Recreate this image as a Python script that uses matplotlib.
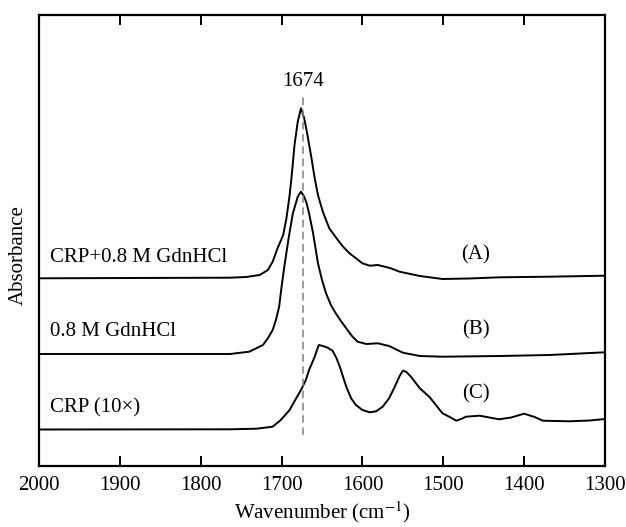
import matplotlib.pyplot as plt
import numpy as np

plt.rcParams['font.family'] = ['Liberation Serif', 'DejaVu Serif']
plt.rcParams['mathtext.fontset'] = 'stix'

# spectra (wavenumber, offset absorbance in arbitrary units)
wn_a = [2000, 1764, 1744, 1727, 1717, 1711, 1705, 1698, 1694, 1690, 1687, 1684, 1680, 1676,
        1672, 1668, 1663, 1659, 1655, 1649, 1641, 1632, 1624, 1616, 1608, 1600, 1591, 1581,
        1566, 1554, 1529, 1501, 1468, 1430, 1369, 1300]
abs_a = [1.877, 1.883, 1.89, 1.91, 1.96, 2.043, 2.177, 2.31, 2.477, 2.71, 2.943, 3.21, 3.443,
         3.577, 3.477, 3.31, 3.077, 2.877, 2.71, 2.543, 2.377, 2.277, 2.193, 2.127, 2.077,
         2.027, 2.003, 2.01, 1.98, 1.943, 1.90, 1.87, 1.875, 1.887, 1.893, 1.903]

wn_b = [2000, 1764, 1740, 1723, 1717, 1711, 1707, 1703, 1700, 1696, 1691, 1686, 1680, 1676,
        1672, 1669, 1666, 1661, 1655, 1650, 1645, 1639, 1633, 1626, 1620, 1613, 1606, 1595,
        1581, 1567, 1550, 1529, 1501, 1430, 1369, 1300]
abs_b = [1.12, 1.12, 1.143, 1.21, 1.277, 1.36, 1.46, 1.593, 1.793, 2.027, 2.293, 2.527, 2.693,
         2.743, 2.693, 2.627, 2.527, 2.327, 2.027, 1.86, 1.727, 1.61, 1.527, 1.443, 1.377,
         1.30, 1.243, 1.22, 1.227, 1.20, 1.133, 1.10, 1.093, 1.10, 1.11, 1.137]

wn_c = [2000, 1764, 1731, 1711, 1701, 1690, 1682, 1676, 1670, 1666, 1659, 1654, 1649, 1643,
        1637, 1632, 1628, 1624, 1620, 1614, 1608, 1600, 1591, 1583, 1575, 1567, 1560, 1554,
        1550, 1546, 1540, 1529, 1517, 1501, 1492, 1484, 1478, 1472, 1455, 1443, 1431, 1416,
        1400, 1387, 1377, 1344, 1319, 1300]
abs_c = [0.365, 0.367, 0.373, 0.393, 0.46, 0.56, 0.677, 0.76, 0.86, 0.96, 1.093, 1.21, 1.20,
         1.183, 1.153, 1.077, 0.993, 0.893, 0.793, 0.677, 0.61, 0.56, 0.537, 0.547, 0.593,
         0.677, 0.793, 0.90, 0.953, 0.943, 0.893, 0.777, 0.69, 0.527, 0.49, 0.453, 0.47,
         0.493, 0.503, 0.485, 0.467, 0.485, 0.523, 0.49, 0.453, 0.447, 0.455, 0.47]

labels_left = ['CRP+0.8 M GdnHCl', '0.8 M GdnHCl', 'CRP (10×)']
labels_left_y = [2.08, 1.34, 0.58]
labels_right = ['(A)', '(B)', '(C)']
labels_right_y = [2.11, 1.36, 0.72]

peak_wn = 1674
peak_span = [0.31, 3.69]

fig = plt.figure(figsize=(6.26, 5.27), dpi=100)
ax = fig.add_axes([39 / 626, 61 / 527, 566 / 626, 451 / 527])

for wn, ab in [(wn_a, abs_a), (wn_b, abs_b), (wn_c, abs_c)]:
    ax.plot(wn, ab, color='black', lw=1.4, solid_joinstyle='round')

ax.plot([peak_wn, peak_wn], peak_span, color='#808080', lw=1.1, ls=(0, (5, 3)))
ax.text(peak_wn, 3.84, str(peak_wn), ha='center', va='center', fontsize=15)

for txt, y in zip(labels_left, labels_left_y):
    ax.text(1987, y, txt, ha='left', va='center', fontsize=15)
for txt, y in zip(labels_right, labels_right_y):
    ax.text(1460, y, txt, ha='center', va='center', fontsize=15)

ax.set_xlim(2000, 1300)
ax.set_ylim(0, 4.51)
ax.set_xticks(np.arange(2000, 1299, -100))
ax.set_yticks([])
ax.tick_params(axis='x', direction='in', top=True, length=7, width=1.4,
               labelsize=15, pad=7)
for s in ax.spines.values():
    s.set_linewidth(1.6)

ax.set_xlabel('Wavenumber (cm$^{-1}$)', fontsize=15, labelpad=3)
ax.set_ylabel('Absorbance', fontsize=15)
ax.yaxis.set_label_coords(-0.02, 0.468)

fig.savefig('out.png', dpi=100)
